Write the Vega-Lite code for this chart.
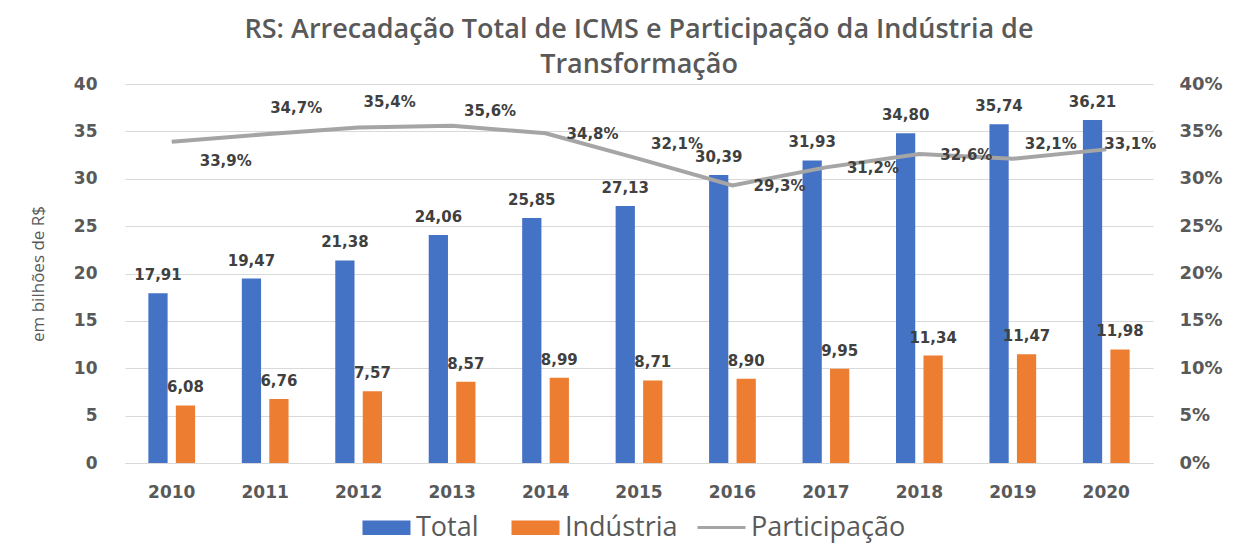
{
  "$schema": "https://vega.github.io/schema/vega-lite/v6.json",
  "width": 1028,
  "height": 379,
  "autosize": {"type": "none"},
  "padding": {"left": 125, "top": 84, "right": 93, "bottom": 87},
  "background": "white",
  "config": {
    "locale": {"number": {"decimal": ",", "thousands": ".", "grouping": [3], "currency": ["R$", ""]}},
    "view": {"stroke": null},
    "title": {"font": "Open Sans", "fontSize": 27, "fontWeight": 600, "color": "#595959", "anchor": "middle", "lineHeight": 35, "offset": -4},
    "legend": {"orient": "bottom", "direction": "horizontal", "offset": 14, "labelFont": "Open Sans", "labelFontSize": 27, "labelColor": "#595959", "title": null, "layout": {"bottom": {"anchor": "middle", "direction": "horizontal", "margin": 30}}}
  },
  "title": {"text": ["RS: Arrecadação Total de ICMS e Participação da Indústria de", "Transformação"]},
  "datasets": {
    "bars": [
      {"year": "2010", "series": "Total", "value": 17.91},
      {"year": "2011", "series": "Total", "value": 19.47},
      {"year": "2012", "series": "Total", "value": 21.38},
      {"year": "2013", "series": "Total", "value": 24.06},
      {"year": "2014", "series": "Total", "value": 25.85},
      {"year": "2015", "series": "Total", "value": 27.13},
      {"year": "2016", "series": "Total", "value": 30.39},
      {"year": "2017", "series": "Total", "value": 31.93},
      {"year": "2018", "series": "Total", "value": 34.80},
      {"year": "2019", "series": "Total", "value": 35.74},
      {"year": "2020", "series": "Total", "value": 36.21},
      {"year": "2010", "series": "Indústria", "value": 6.08},
      {"year": "2011", "series": "Indústria", "value": 6.76},
      {"year": "2012", "series": "Indústria", "value": 7.57},
      {"year": "2013", "series": "Indústria", "value": 8.57},
      {"year": "2014", "series": "Indústria", "value": 8.99},
      {"year": "2015", "series": "Indústria", "value": 8.71},
      {"year": "2016", "series": "Indústria", "value": 8.90},
      {"year": "2017", "series": "Indústria", "value": 9.95},
      {"year": "2018", "series": "Indústria", "value": 11.34},
      {"year": "2019", "series": "Indústria", "value": 11.47},
      {"year": "2020", "series": "Indústria", "value": 11.98}
    ],
    "part": [
      {"year": "2010", "share": 0.339},
      {"year": "2011", "share": 0.347},
      {"year": "2012", "share": 0.354},
      {"year": "2013", "share": 0.356},
      {"year": "2014", "share": 0.348},
      {"year": "2015", "share": 0.321},
      {"year": "2016", "share": 0.293},
      {"year": "2017", "share": 0.312},
      {"year": "2018", "share": 0.326},
      {"year": "2019", "share": 0.321},
      {"year": "2020", "share": 0.331}
    ]
  },
  "encoding": {
    "x": {
      "field": "year", "type": "nominal",
      "scale": {"paddingInner": 0.5, "paddingOuter": 0.25},
      "axis": {"title": null, "labelAngle": 0, "domain": true, "domainColor": "#D9D9D9", "ticks": false, "labelPadding": 21, "labelFont": "DejaVu Sans", "labelFontWeight": "bold", "labelFontSize": 17, "labelColor": "#595959"}
    }
  },
  "layer": [
    {
      "data": {"name": "bars"},
      "encoding": {
        "xOffset": {"field": "series", "type": "nominal", "scale": {"domain": ["Total", "Indústria"], "paddingInner": 0.3, "paddingOuter": 0}},
        "y": {
          "field": "value", "type": "quantitative",
          "scale": {"domain": [0, 40], "nice": false},
          "axis": {"orient": "left", "values": [0, 5, 10, 15, 20, 25, 30, 35, 40], "grid": true, "gridColor": "#D9D9D9", "domain": false, "ticks": false, "labelFont": "DejaVu Sans", "labelFontWeight": "bold", "labelFontSize": 17, "labelColor": "#595959", "labelPadding": 28, "title": "em bilhões de R$", "titleFont": "Open Sans", "titleFontWeight": "normal", "titleFontSize": 17, "titleColor": "#595959", "titlePadding": 26}
        }
      },
      "layer": [
        {
          "mark": {"type": "bar"},
          "encoding": {
            "fill": {"field": "series", "type": "nominal", "scale": {"domain": ["Total", "Indústria"], "range": ["#4472C4", "#ED7D31"]}, "legend": {"symbolType": "M-2,-0.6H2V0.6H-2Z", "symbolSize": 576, "symbolStrokeWidth": 0, "labelOffset": 16, "columnPadding": 32}}
          }
        },
        {
          "mark": {"type": "text", "dy": -18, "font": "DejaVu Sans", "fontWeight": "bold", "fontSize": 15, "color": "#404040"},
          "encoding": {"text": {"field": "value", "type": "quantitative", "format": ".2f"}}
        }
      ]
    },
    {
      "data": {"name": "part"},
      "encoding": {
        "y": {
          "field": "share", "type": "quantitative",
          "scale": {"domain": [0, 0.4], "nice": false},
          "axis": {"orient": "right", "values": [0, 0.05, 0.1, 0.15, 0.2, 0.25, 0.3, 0.35, 0.4], "format": ".0%", "grid": false, "domain": false, "ticks": false, "labelFont": "DejaVu Sans", "labelFontWeight": "bold", "labelFontSize": 18, "labelColor": "#595959", "labelPadding": 26, "title": null}
        },
        "text": {"field": "share", "type": "quantitative", "format": ".1%"}
      },
      "layer": [
        {
          "mark": {"type": "line", "strokeWidth": 4, "strokeCap": "butt"},
          "encoding": {
            "stroke": {"datum": "Participação", "type": "nominal", "scale": {"range": ["#A5A5A5"]}, "legend": {"symbolType": "M-2,0H2", "symbolSize": 576, "symbolStrokeWidth": 3, "labelOffset": 16}},
            "text": null
          }
        },
        {
          "transform": [{"filter": {"field": "year", "oneOf": ["2010"]}}],
          "mark": {"type": "text", "align": "left", "dx": 28, "dy": 19, "font": "DejaVu Sans", "fontWeight": "bold", "fontSize": 15, "color": "#404040"}
        },
        {
          "transform": [{"filter": {"field": "year", "oneOf": ["2011", "2012"]}}],
          "mark": {"type": "text", "align": "center", "dx": 31, "dy": -26, "font": "DejaVu Sans", "fontWeight": "bold", "fontSize": 15, "color": "#404040"}
        },
        {
          "transform": [{"filter": {"field": "year", "oneOf": ["2013", "2015", "2019"]}}],
          "mark": {"type": "text", "align": "center", "dx": 38, "dy": -15, "font": "DejaVu Sans", "fontWeight": "bold", "fontSize": 15, "color": "#404040"}
        },
        {
          "transform": [{"filter": {"field": "year", "oneOf": ["2014", "2016", "2017", "2018"]}}],
          "mark": {"type": "text", "align": "left", "dx": 21, "dy": 1, "font": "DejaVu Sans", "fontWeight": "bold", "fontSize": 15, "color": "#404040"}
        },
        {
          "transform": [{"filter": {"field": "year", "oneOf": ["2020"]}}],
          "mark": {"type": "text", "align": "left", "dx": -2, "dy": -5, "font": "DejaVu Sans", "fontWeight": "bold", "fontSize": 15, "color": "#404040"}
        }
      ]
    }
  ],
  "resolve": {"scale": {"y": "independent"}}
}
